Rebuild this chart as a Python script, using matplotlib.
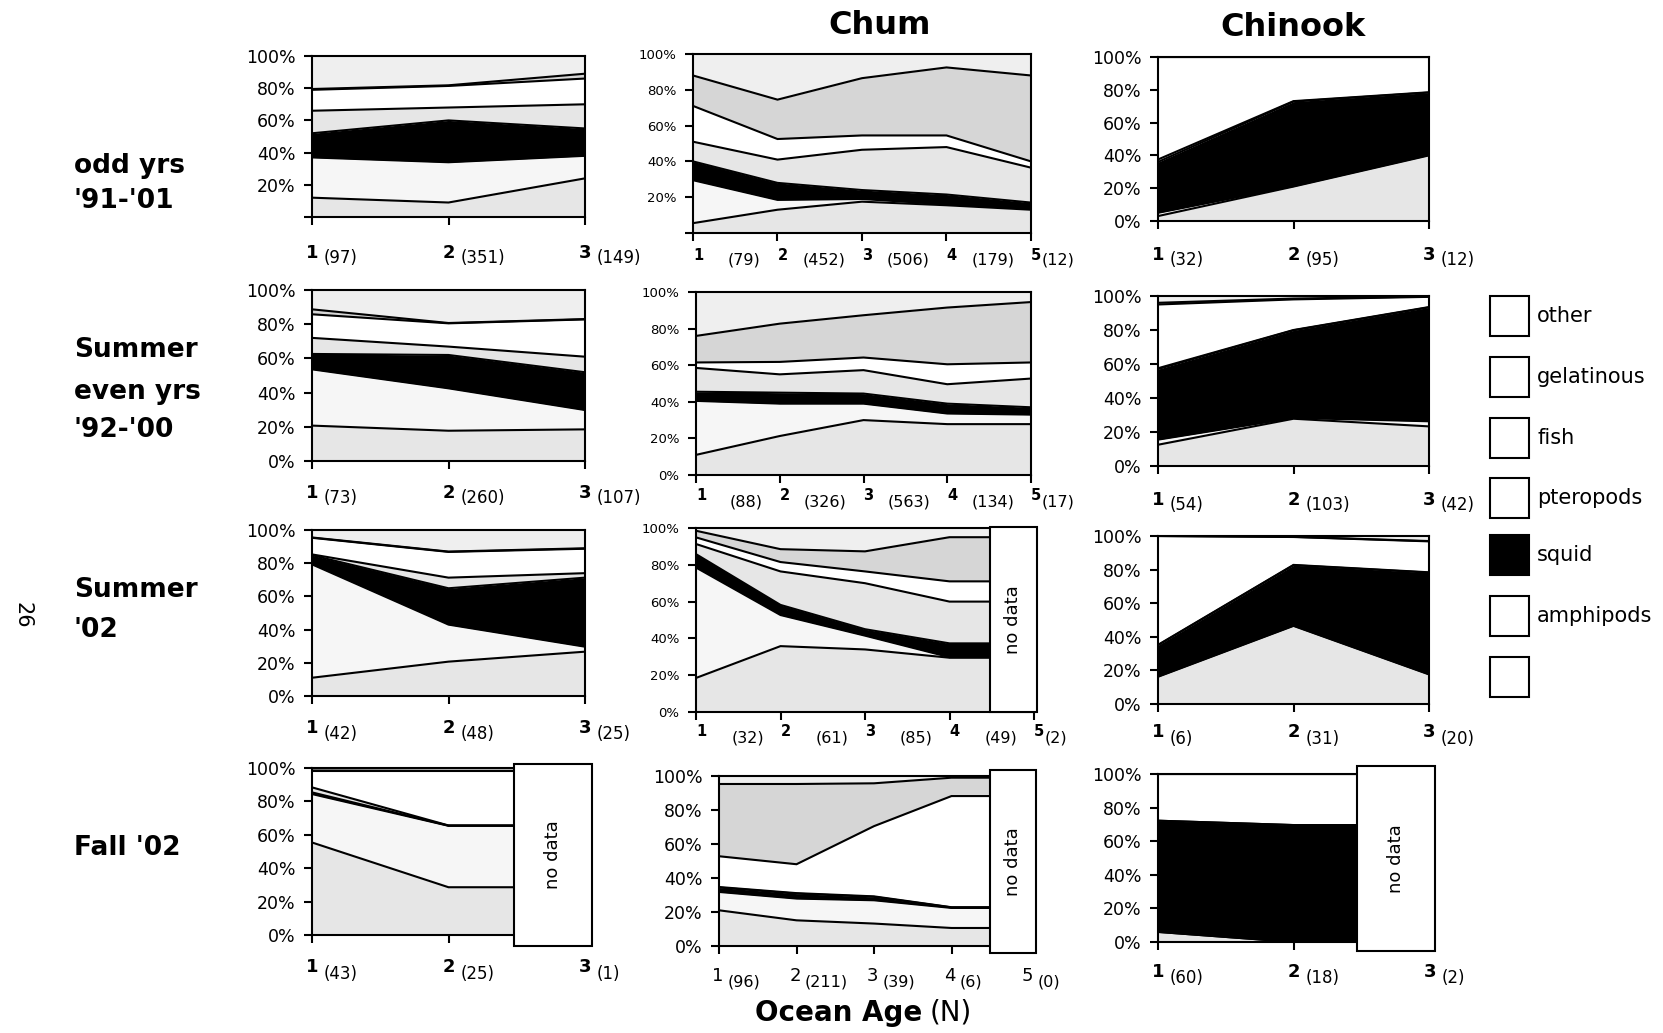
import numpy as np
import matplotlib
matplotlib.use("Agg")
import matplotlib.pyplot as plt
from matplotlib.patches import Rectangle

plt.rcParams['font.family'] = ['DejaVu Sans']

W, H = 1663, 1033

# ---------------- data (percent of diet, layers bottom -> top) ----------------
layer_names = ['unlabelled', 'amphipods', 'squid', 'pteropods', 'fish', 'gelatinous', 'other']
legend_labels = ['other', 'gelatinous', 'fish', 'pteropods', 'squid', 'amphipods', '']
col_titles = ['', 'Chum', 'Chinook']
row_labels = [["odd yrs", "'91-'01"], ["Summer", "even yrs", "'92-'00"], ["Summer", "'02"], ["Fall '02"]]

# odd years '91-'01
odd_c1_n = [97, 351, 149]
odd_c1 = [[12, 9, 24], [25, 25, 14], [15, 26, 17], [14, 8, 15], [13, 13.4, 16], [0.5, 0.4, 3], [20.5, 18.2, 11]]
odd_chum_n = [79, 452, 506, 179, 12]
odd_chum = [[5.5, 13, 17.5, 15.5, 13], [24, 5.5, 1.5, 0.5, 0.5], [10.5, 9.5, 5, 5.5, 3.5],
            [11, 13, 22.5, 26.5, 19.5], [20, 11.5, 8, 6.5, 3.5], [17, 22, 32, 38, 48], [12, 25.5, 13.5, 7.5, 12]]
odd_chinook_n = [32, 95, 12]
odd_chinook = [[3, 21, 40], [2, 0.3, 0.3], [31, 51.5, 38], [1.5, 0.3, 0.2], [62.5, 26.9, 21.5], [0, 0, 0], [0, 0, 0]]

# summer even years '92-'00
even_c1_n = [73, 260, 107]
even_c1 = [[20.7, 17.7, 18.5], [32.9, 24.8, 11.3], [9, 19.5, 22.1], [9.4, 4.9, 9.1], [13.8, 13.6, 21.8],
           [2.9, 0.2, 0.2], [11.3, 19.3, 17]]
even_chum_n = [88, 326, 563, 134, 17]
even_chum = [[11, 21.3, 30, 27.8, 27.8], [29.5, 17.7, 9, 5.8, 5.2], [5, 6, 5.5, 5.4, 4],
             [13, 10, 12.8, 10.6, 15.7], [3, 6.8, 6.9, 10.9, 8.8], [14.5, 20.9, 23.1, 31, 33],
             [24, 17.3, 12.7, 8.5, 5.5]]
even_chinook_n = [54, 103, 42]
even_chinook = [[12.5, 27.8, 23.3], [3, 0.5, 3], [41.5, 51.5, 67], [0.5, 0.2, 0.2], [37.5, 18, 6],
                [1, 0.5, 0.2], [4, 1.5, 0.3]]

# summer '02
s02_c1_n = [42, 48, 25]
s02_c1 = [[11, 20.7, 26.7], [68.3, 22.3, 3], [5.5, 21.9, 41.6], [0.5, 6.4, 2.7], [10, 15.5, 14.7],
          [0.2, 0.2, 0.3], [4.5, 13, 11]]
s02_chum_n = [32, 61, 85, 49, 2]
s02_chum = [[18.5, 35.8, 34, 29.5], [60, 16.9, 7.5, 0.3], [7.3, 5.5, 3.5, 7.5], [5.5, 18.2, 25, 22.7],
            [3.6, 5.1, 6.4, 11], [3.6, 7, 10.9, 24], [1.5, 11.5, 12.7, 5]]
s02_chinook_n = [6, 31, 20]
s02_chinook = [[16.2, 46.5, 17.6], [0.2, 0.2, 0.2], [18.6, 35.9, 60.4], [0.2, 0.2, 0.2], [64.8, 16.6, 18.4],
               [0, 0.1, 0.2], [0, 0.5, 3]]

# fall '02
f02_c1_n = [43, 25, 1]
f02_c1 = [[55.4, 28.6], [29, 36.8], [1, 0.1], [3, 0.1], [9.6, 32.4], [0.5, 0.3], [1.5, 1.7]]
f02_chum_n = [96, 211, 39, 6, 0]
f02_chum = [[21, 15.1, 13.2, 10.6], [10.8, 12.8, 13.7, 11.8], [2.6, 2.9, 2, 0.3], [0.3, 0.3, 0.3, 0.1],
            [18.1, 17, 41.3, 65.4], [42.5, 47.2, 25.2, 10.8], [4.7, 4.7, 4.3, 1.0]]
f02_chinook_n = [60, 18, 2]
f02_chinook = [[6, 0], [0, 0], [66.2, 69.6], [0, 0], [27.8, 30.4], [0, 0], [0, 0]]

colors = ['#e6e6e6', '#f6f6f6', '#000000', '#e6e6e6', '#ffffff', '#d6d6d6', '#efefef']

fig = plt.figure(figsize=(W / 100, H / 100), dpi=100)


def add_axes(L, R, T, B):
    return fig.add_axes([L / W, 1 - B / H, (R - L) / W, (B - T) / H])


def draw_panel(box_px, data, n_labels, style, dy, cut=None, nodata=None, show_zero=True, ysize=12.5):
    ax = add_axes(*box_px)
    vals = np.array(data, float)
    vals = vals / vals.sum(axis=0) * 100
    k = vals.shape[1]
    x = list(range(1, k + 1))
    if cut is not None:
        x = x + [cut]
        vals = np.column_stack([vals, vals[:, -1]])
    cum = np.cumsum(vals, axis=0)
    lower = np.zeros(len(x))
    for i in range(7):
        ax.fill_between(x, lower, cum[i], color=colors[i], lw=0, zorder=1)
        lower = cum[i]
    for i in range(6):
        ax.plot(x, cum[i], color='black', lw=1.5, zorder=2, solid_joinstyle='miter')
    nmax = len(n_labels)
    ax.set_xlim(1, nmax)
    ax.set_ylim(0, 100)
    ax.set_xticks(range(1, nmax + 1))
    ax.set_xticklabels([])
    yt = list(range(0, 101, 20))
    ax.set_yticks(yt)
    ax.set_yticklabels([('%d%%' % v) if (v > 0 or show_zero) else '' for v in yt])
    ax.tick_params(direction='out', length=6, width=1.5, labelsize=ysize, pad=6)
    for s in ax.spines.values():
        s.set_linewidth(1.5)
    d_dy, n_dy = dy[0] * 0.72, dy[1] * 0.72
    for j, n in enumerate(n_labels):
        age = j + 1
        if style == 'side':
            ax.annotate(str(age), xy=(age, 0), xycoords=('data', 'axes fraction'), xytext=(0, -d_dy),
                        textcoords='offset points', ha='center', va='center', fontsize=13,
                        fontweight='bold', annotation_clip=False)
            ax.annotate('(%d)' % n, xy=(age, 0), xycoords=('data', 'axes fraction'), xytext=(8.5, -n_dy),
                        textcoords='offset points', ha='left', va='center', fontsize=12,
                        annotation_clip=False)
        elif style == 'chum':
            ax.annotate(str(age), xy=(age, 0), xycoords=('data', 'axes fraction'), xytext=(0, -d_dy),
                        textcoords='offset points', ha='left', va='center', fontsize=10.5,
                        fontweight='bold', annotation_clip=False)
            if age < nmax:
                ax.annotate('(%d)' % n, xy=(age + 1, 0), xycoords=('data', 'axes fraction'),
                            xytext=(-12, -n_dy), textcoords='offset points', ha='right', va='center',
                            fontsize=11.5, annotation_clip=False)
            else:
                ax.annotate('(%d)' % n, xy=(age, 0), xycoords=('data', 'axes fraction'),
                            xytext=(8, -n_dy), textcoords='offset points', ha='left', va='center',
                            fontsize=11.5, annotation_clip=False)
        else:  # chum fall
            ax.annotate(str(age), xy=(age, 0), xycoords=('data', 'axes fraction'), xytext=(-1, -d_dy),
                        textcoords='offset points', ha='center', va='center', fontsize=13,
                        annotation_clip=False)
            ax.annotate('(%d)' % n, xy=(age, 0), xycoords=('data', 'axes fraction'), xytext=(6, -n_dy),
                        textcoords='offset points', ha='left', va='center', fontsize=11.5,
                        annotation_clip=False)
    if nodata is not None:
        x0, x1, y0, y1 = nodata
        ax.add_patch(Rectangle((x0, y0), x1 - x0, y1 - y0, facecolor='white', edgecolor='black',
                               lw=1.5, clip_on=False, zorder=5))
        ax.text((x0 + x1) / 2, (y0 + y1) / 2, 'no data', rotation=90, ha='center', va='center',
                fontsize=13, zorder=6)
    return ax


# row 1
draw_panel((312, 585, 56, 217), odd_c1, odd_c1_n, 'side', (36, 41), show_zero=False)
draw_panel((693, 1031, 54, 233), odd_chum, odd_chum_n, 'chum', (23, 27), show_zero=False, ysize=9.5)
draw_panel((1158, 1429, 57, 221), odd_chinook, odd_chinook_n, 'side', (34, 39))
# row 2
draw_panel((312, 585, 290, 461), even_c1, even_c1_n, 'side', (32, 37))
draw_panel((696, 1031, 292, 475), even_chum, even_chum_n, 'chum', (20, 27), ysize=9.5)
draw_panel((1158, 1429, 296, 466), even_chinook, even_chinook_n, 'side', (34, 39))
# row 3
draw_panel((312, 585, 530, 696), s02_c1, s02_c1_n, 'side', (32, 38))
draw_panel((696, 1034, 528, 712), s02_chum, s02_chum_n, 'chum', (20, 26), ysize=9.5,
           cut=4.48, nodata=(4.48, 5.03, 0, 100.5))
draw_panel((1158, 1429, 536, 704), s02_chinook, s02_chinook_n, 'side', (28, 35))
# row 4
draw_panel((312, 585, 768, 935), f02_c1, f02_c1_n, 'side', (32, 39),
           cut=2.48, nodata=(2.48, 3.05, -6.6, 102.4))
draw_panel((719, 1029, 776, 946), f02_chum, f02_chum_n, 'chumfall', (30, 36),
           cut=4.5, nodata=(4.5, 5.09, -4.1, 103.5))
draw_panel((1158, 1430, 774, 942), f02_chinook, f02_chinook_n, 'side', (30, 36),
           cut=2.46, nodata=(2.46, 3.04, -5.4, 104.8))

# column titles
fig.text(880 / W, 1 - 26 / H, col_titles[1], ha='center', va='center', fontsize=23, fontweight='bold')
fig.text(1293 / W, 1 - 27 / H, col_titles[2], ha='center', va='center', fontsize=23, fontweight='bold')

# row labels
row_y = [[166, 201], [350, 392, 430], [590, 630], [848]]
for labs, ys in zip(row_labels, row_y):
    for lab, yy in zip(labs, ys):
        fig.text(74 / W, 1 - yy / H, lab, ha='left', va='center', fontsize=19, fontweight='bold')

# page number
fig.text(23 / W, 1 - 615 / H, '26', rotation=270, ha='center', va='center', fontsize=15)

# x axis title
fig.text(922 / W, 1 - 1013 / H, 'Ocean Age', ha='right', va='center', fontsize=20, fontweight='bold')
fig.text(930 / W, 1 - 1013 / H, '(N)', ha='left', va='center', fontsize=20)

# legend
leg_y = [316, 377, 438, 498, 555, 616, 677]
for lab, cy in zip(legend_labels, leg_y):
    fc = 'black' if lab == 'squid' else 'white'
    fig.add_artist(Rectangle((1490 / W, 1 - (cy + 20) / H), 39 / W, 40 / H, transform=fig.transFigure,
                             facecolor=fc, edgecolor='black', lw=1.5))
    if lab:
        fig.text(1537 / W, 1 - cy / H, lab, ha='left', va='center', fontsize=15)

fig.savefig('out.png', dpi=100)
